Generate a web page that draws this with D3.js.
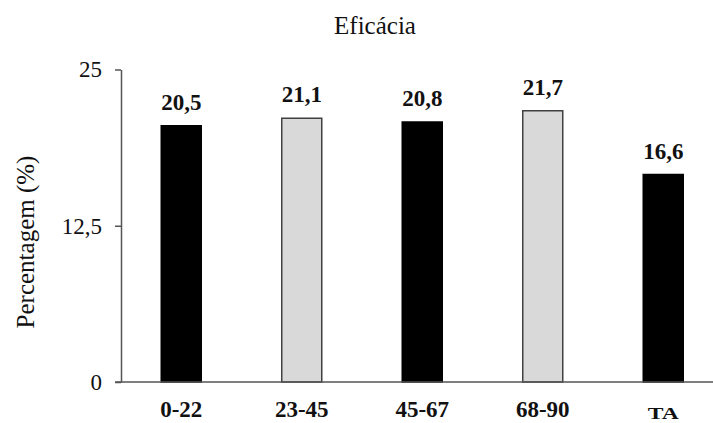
<!DOCTYPE html>
<html>
<head>
<meta charset="utf-8">
<script src="https://cdn.jsdelivr.net/npm/d3@7"></script>
<style>
  html, body { margin: 0; padding: 0; background: #fff; }
  svg { display: block; }
  text { font-family: "Liberation Serif", "Times New Roman", serif; fill: #111; }
</style>
</head>
<body>
<svg id="chart" width="713" height="423"></svg>
<script>
const categories = ["0-22", "23-45", "45-67", "68-90", "TA"];
const values = [20.5, 21.1, 20.8, 21.7, 16.6];
const valueLabels = ["20,5", "21,1", "20,8", "21,7", "16,6"];
const yTicks = [0, 12.5, 25];
const yTickLabels = ["0", "12,5", "25"];
const fills = ["#000000", "#d9d9d9", "#000000", "#d9d9d9", "#000000"];
const title = "Eficácia";
const yTitle = "Percentagem (%)";

const svg = d3.select("#chart");
const x = d3.scaleBand().domain(categories).range([121, 723.5]).paddingInner(0.668).paddingOuter(0.334);
const y = d3.scaleLinear().domain([0, 25]).range([382, 69.5]);

// Title
svg.append("text").attr("x", 375).attr("y", 34).attr("text-anchor", "middle")
  .style("font-size", "25px").text(title);

// Y axis title
svg.append("text").attr("transform", "translate(34,242) rotate(-90)")
  .attr("text-anchor", "middle").style("font-size", "25px").text(yTitle);

// Bars
svg.selectAll("rect.bar").data(categories).join("rect").attr("class", "bar")
  .attr("x", d => x(d)).attr("width", x.bandwidth())
  .attr("y", (d, i) => y(values[i])).attr("height", (d, i) => y(0) - y(values[i]))
  .attr("fill", (d, i) => fills[i])
  .attr("stroke", (d, i) => fills[i] === "#000000" ? "#000" : "#404040")
  .attr("stroke-width", 1.5);

// Value labels
svg.selectAll("text.val").data(categories).join("text").attr("class", "val")
  .attr("x", d => x(d) + x.bandwidth() / 2)
  .attr("y", (d, i) => y(values[i]) - 16)
  .attr("text-anchor", "middle").style("font-size", "23px").style("font-weight", "bold")
  .text((d, i) => valueLabels[i]);

// Y axis
const yAxis = d3.axisLeft(y).tickValues(yTicks).tickFormat((d, i) => yTickLabels[yTicks.indexOf(d)])
  .tickSize(6).tickSizeOuter(0).tickPadding(13);
const gy = svg.append("g").attr("transform", "translate(121,0)").call(yAxis);
gy.selectAll("path, line").attr("stroke", "#555").attr("stroke-width", 1.5);
gy.selectAll("text").style("font-size", "23px").style("font-family", "Liberation Serif, serif").attr("fill", "#111");

// X axis
const xAxis = d3.axisBottom(x).tickSize(0).tickSizeOuter(0).tickPadding(22);
const gx = svg.append("g").attr("transform", "translate(0,382)").call(xAxis);
gx.select("path.domain").remove();
gx.append("line").attr("x1", 115).attr("x2", 713).attr("y1", 0).attr("y2", 0)
  .attr("stroke", "#555").attr("stroke-width", 1.5);
gx.selectAll(".tick text")
  .style("font-size", d => d === "TA" ? "17px" : "23px")
  .style("font-weight", "bold").style("font-family", "Liberation Serif, serif")
  .attr("fill", "#111").attr("dy", null).attr("y", d => d === "TA" ? 37 : 35)
  .each(function(d) {
    if (d === "TA") d3.select(this).attr("textLength", 31).attr("lengthAdjust", "spacingAndGlyphs");
  });
</script>
</body>
</html>
